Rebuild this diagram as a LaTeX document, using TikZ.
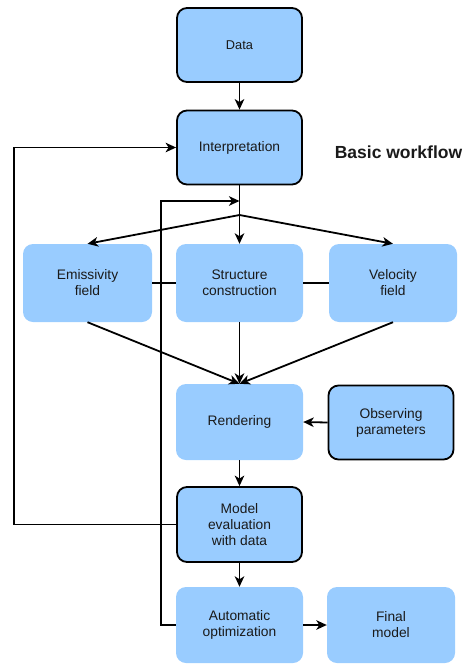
\documentclass[tikz,border=0pt]{standalone}
\usepackage{fontspec}
\setmainfont{Liberation Sans}
\usetikzlibrary{arrows.meta}
\definecolor{boxblue}{HTML}{99CCFF}
\definecolor{txt}{HTML}{1A1A1A}
\tikzset{
  box/.style={rounded corners=10pt, fill=boxblue, minimum width=127pt, minimum height=76pt,
    align=center, inner sep=2pt, text=txt, font=\fontsize{13.8}{16}\selectfont},
  bbox/.style={box, draw=black, line width=1.8pt, minimum width=125pt, minimum height=74pt},
  conn/.style={line width=1.8pt, draw=black},
  arr/.style={conn, -{Stealth[length=10.5pt,width=9.5pt,inset=3pt]}}
}
\begin{document}
\begin{tikzpicture}[x=1pt,y=-1pt]
\useasboundingbox (0,0) rectangle (469,664);
\node[bbox, font=\fontsize{12.8}{15}\selectfont] (data) at (239.5,45) {Data};
\node[bbox] (interp) at (239.5,147.5) {Interpretation};
\node[font=\bfseries\fontsize{17.5}{20}\selectfont, text=txt] (title) at (398.5,152) {Basic workflow};
\node[box, minimum width=129pt, minimum height=78pt] (emis) at (87.5,283) {Emissivity\\field};
\node[box, minimum height=78pt] (struct) at (239.5,283) {Structure\\construction};
\node[box, minimum width=128pt, minimum height=78pt] (vel) at (393,283) {Velocity\\field};
\node[box] (rend) at (239.5,422) {Rendering};
\node[bbox] (obs) at (391,422.5) {Observing\\parameters};
\node[bbox, minimum height=75pt] (model) at (239.5,524.5) {Model\\evaluation\\with data};
\node[box] (auto) at (239.5,625) {Automatic\\optimization};
\node[box, minimum width=128pt] (final) at (391,625) {Final\\model};
\coordinate (split) at (239.5,215);
\coordinate (join) at (239.5,201);
% main flow
\draw[arr] (data) -- (interp);
\draw[conn] (interp.south) -- (split);
\draw[arr] (split) -- (emis.north);
\draw[arr] (split) -- (struct.north);
\draw[arr] (split) -- (vel.north);
\draw[conn] (emis.east) -- (struct.west);
\draw[conn] (struct.east) -- (vel.west);
\draw[arr] (emis.south) -- (rend.north);
\draw[arr] (struct.south) -- (rend.north);
\draw[arr] (vel.south) -- (rend.north);
\draw[arr] (obs.west) -- (rend.east);
\draw[arr] (rend) -- (model);
\draw[arr] (model) -- (auto);
\draw[arr] (auto) -- (final);
% loops
\draw[arr] (model.west) -- ++(-162,0) |- (interp.west);
\draw[arr] (auto.west) -- ++(-15,0) |- (join);
\end{tikzpicture}
\end{document}
